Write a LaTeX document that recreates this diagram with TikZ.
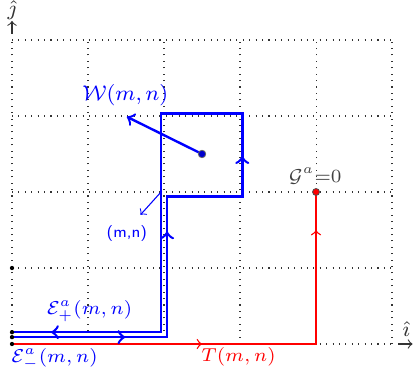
\documentclass[tikz,border=0pt]{standalone}
\usetikzlibrary{decorations.markings}
\begin{document}
\begin{tikzpicture}[
  loopline/.style={blue, line width=0.95pt},
  redline/.style={red, line width=0.5pt},
  lbl/.style={inner sep=0pt}
]
\useasboundingbox (-0.158,-0.342) rectangle (5.276,4.526);
% grid
\draw[dotted, black!80, line width=0.4pt] (0,0) grid (5,4);
% axes
\coordinate (xa) at (5.08,0);
\coordinate (xb) at (5.27,0);
\coordinate (ya) at (0,4.08);
\coordinate (yb) at (0,4.25);
\draw[->, black!80] (xa) -- (xb);
\draw[->, black!80] (ya) -- (yb);
\node[lbl, black!80, font=\footnotesize] (ih) at (5.19,0.19) {$\hat{\imath}$};
\node[lbl, black!80, font=\footnotesize] (jh) at (0,4.39) {$\hat{\jmath}$};
% red path T(m,n)
\coordinate (r0) at (0,0);
\coordinate (r1) at (4,0);
\coordinate (r2) at (4,2);
\draw[redline, postaction={decorate}, decoration={markings,
   mark=at position 2.5cm with {\arrow{to}},
   mark=at position 5.5cm with {\arrow{to}}}]
   (r0) -- (r1) -- (r2);
\filldraw[fill=red, draw=black!70, line width=0.3pt] (r2) circle (1.3pt);
% blue loop
\coordinate (p0) at (0,0.09);
\coordinate (p1) at (2.04,0.09);
\coordinate (p2) at (2.04,1.94);
\coordinate (p3) at (3.03,1.94);
\coordinate (p4) at (3.03,3.03);
\coordinate (p5) at (1.96,3.03);
\coordinate (p6) at (1.96,0.155);
\coordinate (p7) at (0,0.155);
\draw[loopline, postaction={decorate}, decoration={markings,
   mark=at position 1.49cm with {\arrow{to}},
   mark=at position 3.43cm with {\arrow{to}},
   mark=at position 5.41cm with {\arrow{to}},
   mark=at position 11.36cm with {\arrow{to}}}]
   (p0) -- (p1) -- (p2) -- (p3) -- (p4) -- (p5) -- (p6) -- (p7);
% left dots
\fill (0,0) circle (0.8pt);
\fill (p0) circle (0.8pt);
\fill (p7) circle (0.8pt);
\fill (0,1) circle (0.8pt);
% W arrow
\coordinate (wc) at (2.5,2.5);
\coordinate (wt) at (1.51,2.99);
\draw[blue, line width=0.9pt, ->] (wc) -- (wt);
\filldraw[fill=blue!80!black, draw=black!60, line width=0.3pt] (wc) circle (1.4pt);
\node[lbl, blue, font=\fontsize{8.5}{10}\selectfont] (wl) at (1.49,3.27) {$\mathcal{W}(m,n)$};
% (m,n) pointer
\coordinate (mn0) at (1.97,2.01);
\coordinate (mn1) at (1.69,1.70);
\draw[blue, line width=0.4pt, ->] (mn0) -- (mn1);
\node[lbl, blue, font=\sffamily\fontsize{6}{7}\selectfont] (mnl) at (1.51,1.46) {(m,n)};
% labels
\node[lbl, blue, font=\fontsize{7.5}{9}\selectfont] (ep) at (1.02,0.43) {$\mathcal{E}^a_+(m,n)$};
\node[lbl, blue, font=\fontsize{7.5}{9}\selectfont] (em) at (0.56,-0.2) {$\mathcal{E}^a_-(m,n)$};
\node[lbl, red, font=\fontsize{7.5}{9}\selectfont] (tl) at (2.98,-0.175) {$T(m,n)$};
\node[lbl, black!75, font=\fontsize{7.5}{9}\selectfont] (gl) at (3.99,2.21) {$\mathcal{G}^a{=}0$};
\end{tikzpicture}
\end{document}
